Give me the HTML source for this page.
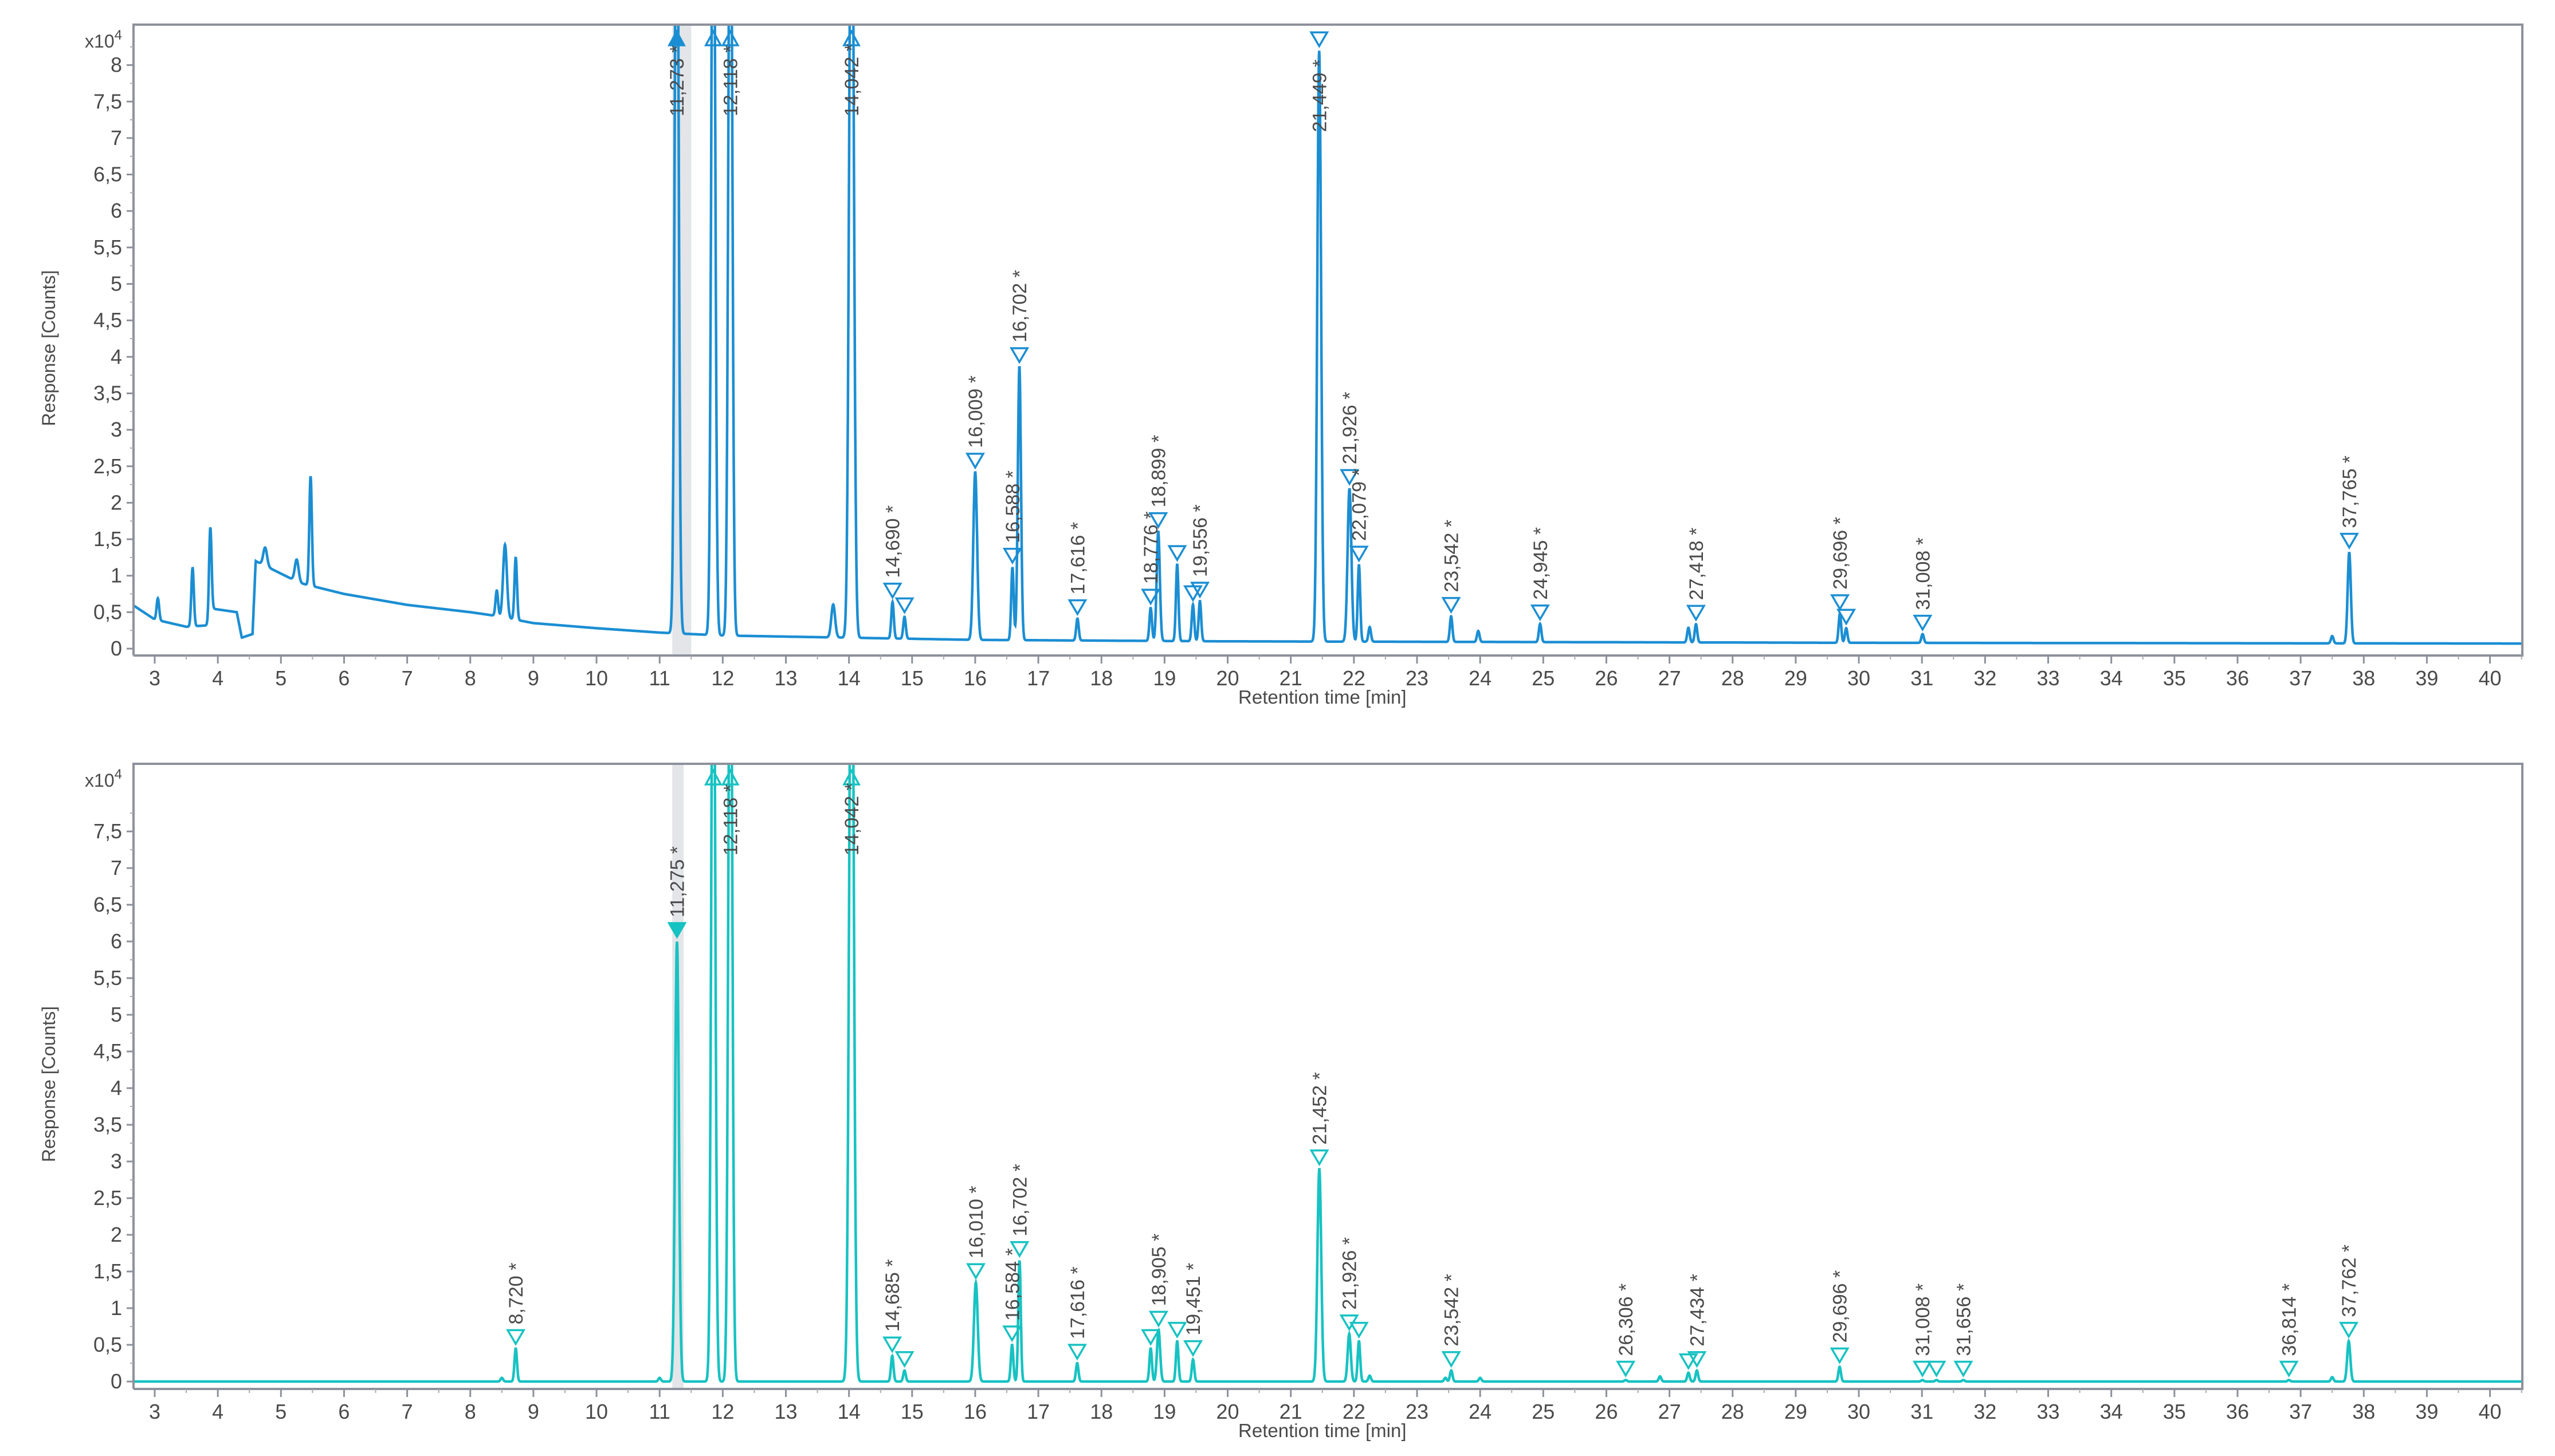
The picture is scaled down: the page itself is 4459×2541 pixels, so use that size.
<!DOCTYPE html>
<html><head><meta charset="utf-8"><style>
html,body{margin:0;padding:0;background:#fff}
svg{display:block}
text{font-family:"Liberation Sans",sans-serif;fill:#4a4a4a}
</style></head><body>
<svg id="chart" width="4459" height="2541" viewBox="0 0 4459 2541" xmlns="http://www.w3.org/2000/svg"></svg>
<script>
// ---- data (retention time in min, response in x10^4 counts) ----
const topBaseT = [2.65,3.0,3.5,3.85,3.9,4.3,4.38,4.55,4.6,5.3,6.0,7.0,8.0,8.4,9.0,10.0,11.0,12.0,14.0,16.0,20.0,30.0,40.5];
const topBaseV = [0.6,0.4,0.3,0.32,0.55,0.5,0.15,0.2,1.2,0.9,0.75,0.6,0.5,0.45,0.35,0.28,0.22,0.18,0.15,0.12,0.1,0.08,0.07];
const topPeakT = [3.05,3.6,3.88,4.75,5.25,5.47,8.42,8.55,8.72,11.27,11.85,12.12,13.75,14.04,14.69,14.88,16.0,16.59,16.7,17.62,18.78,18.9,19.2,19.45,19.56,21.45,21.93,22.08,22.25,23.54,23.97,24.95,27.3,27.42,29.7,29.8,31.01,37.5,37.77];
const topPeakH = [0.3,0.8,1.2,0.25,0.3,1.5,0.35,1.0,0.85,12,12,12,0.45,12,0.5,0.3,2.3,1.0,3.75,0.3,0.45,1.5,1.05,0.5,0.55,8.1,2.1,1.05,0.2,0.35,0.15,0.25,0.2,0.25,0.4,0.2,0.12,0.1,1.25];
const topPeakW = [0.02,0.02,0.02,0.03,0.03,0.02,0.02,0.03,0.02,0.03,0.03,0.03,0.03,0.035,0.02,0.02,0.03,0.02,0.025,0.02,0.02,0.025,0.02,0.02,0.02,0.03,0.03,0.02,0.02,0.02,0.02,0.02,0.02,0.02,0.02,0.02,0.02,0.02,0.025];
const topMarkT = [11.27,11.85,12.12,14.04,14.69,14.88,16.0,16.59,16.7,17.62,18.78,18.9,19.2,19.45,19.56,21.45,21.93,22.08,23.54,24.95,27.42,29.7,29.8,31.01,37.77];
const topMarkL = ["11,273","","12,118","14,042","14,690","","16,009","16,588","16,702","17,616","18,776","18,899","","","19,556","21,449","21,926","22,079","23,542","24,945","27,418","29,696","","31,008","37,765"];

const botPeakT = [8.5,8.72,11.0,11.275,11.85,12.12,14.04,14.685,14.88,16.01,16.584,16.702,17.616,18.78,18.905,19.2,19.451,21.452,21.926,22.08,22.25,23.45,23.542,24.0,26.306,26.85,27.3,27.434,29.696,31.008,31.23,31.656,36.814,37.5,37.762];
const botPeakH = [0.05,0.45,0.05,6.0,12,12,12,0.35,0.15,1.35,0.5,1.65,0.25,0.45,0.7,0.55,0.3,2.9,0.65,0.55,0.08,0.05,0.15,0.05,0.02,0.07,0.12,0.15,0.2,0.02,0.02,0.02,0.02,0.06,0.55];
const botPeakW = [0.02,0.02,0.02,0.03,0.03,0.03,0.035,0.02,0.02,0.03,0.02,0.02,0.02,0.02,0.025,0.02,0.02,0.03,0.025,0.02,0.02,0.02,0.02,0.02,0.02,0.02,0.02,0.02,0.02,0.02,0.02,0.02,0.02,0.02,0.025];
const botMarkT = [8.72,11.275,11.85,12.12,14.04,14.685,14.88,16.01,16.584,16.702,17.616,18.78,18.905,19.2,19.451,21.452,21.926,22.08,23.542,26.306,27.3,27.434,29.696,31.008,31.23,31.656,36.814,37.762];
const botMarkL = ["8,720","11,275","","12,118","14,042","14,685","","16,010","16,584","16,702","17,616","","18,905","","19,451","21,452","21,926","","23,542","26,306","","27,434","29,696","31,008","","31,656","36,814","37,762"];

const xTicks = [3,4,5,6,7,8,9,10,11,12,13,14,15,16,17,18,19,20,21,22,23,24,25,26,27,28,29,30,31,32,33,34,35,36,37,38,39,40];
const topYTicks = [0,0.5,1,1.5,2,2.5,3,3.5,4,4.5,5,5.5,6,6.5,7,7.5,8];
const botYTicks = [0,0.5,1,1.5,2,2.5,3,3.5,4,4.5,5,5.5,6,6.5,7,7.5];

// ---- layout ----
const NS="http://www.w3.org/2000/svg";
const svg=document.getElementById('chart');
function el(tag,attrs,parent){const e=document.createElementNS(NS,tag);for(const k in attrs)e.setAttribute(k,attrs[k]);(parent||svg).appendChild(e);return e;}
const X0=270, XU=110.15;
function xs(t){return X0+(t-3)*XU;}
const panels=[
 {name:'top',left:233,right:4402,top:43,y0:1132,yu:127.3,axisY:1144,color:'#1b8ed3',
  baseT:topBaseT,baseV:topBaseV,pT:topPeakT,pH:topPeakH,pW:topPeakW,mT:topMarkT,mL:topMarkL,yt:topYTicks,band:[11.2,11.5],filled:0},
 {name:'bottom',left:233,right:4402,top:1333,y0:2411,yu:128,axisY:2424,color:'#17c2c2',
  baseT:[2.65,40.5],baseV:[0,0],pT:botPeakT,pH:botPeakH,pW:botPeakW,mT:botMarkT,mL:botMarkL,yt:botYTicks,band:[11.2,11.38],filled:1}
];
function interp(T,V,t){if(t<=T[0])return V[0];for(let i=1;i<T.length;i++){if(t<=T[i]){const f=(t-T[i-1])/(T[i]-T[i-1]);return V[i-1]+f*(V[i]-V[i-1]);}}return V[V.length-1];}

panels.forEach((p,pi)=>{
  const g=el('g',{});
  
  
  const ys=v=>p.y0-v*p.yu;
  const cid='clip'+pi;
  const defs=el('defs',{},g);
  el('rect',{x:p.left,y:p.top,width:p.right-p.left,height:p.axisY-p.top},el('clipPath',{id:cid},defs));
  const band=el('rect',{x:xs(p.band[0]),y:p.top,width:xs(p.band[1])-xs(p.band[0]),height:p.axisY-p.top,fill:'#e3e5e8'},g);
  
  
  let d='';
  for(let t=2.65;t<=40.5;t+=0.004){
    let v=interp(p.baseT,p.baseV,t);
    for(let i=0;i<p.pT.length;i++){const z=(t-p.pT[i])/p.pW[i];if(Math.abs(z)<6)v+=p.pH[i]*Math.exp(-0.5*z*z);}
    d+=(d?'L':'M')+xs(t).toFixed(1)+','+ys(v).toFixed(1);
  }
  const tr=el('path',{d:d,fill:'none',stroke:p.color,'stroke-width':4.5,'clip-path':'url(#'+cid+')'},g);
  
  
  const fr=el('path',{d:`M${p.left},${p.axisY}V${p.top}H${p.right}V${p.axisY}H${p.left}`,fill:'none',stroke:'#8d919b','stroke-width':4},g);
  
  
  xTicks.forEach(t=>{
    el('line',{x1:xs(t),x2:xs(t),y1:p.axisY,y2:p.axisY+14,stroke:'#8d919b','stroke-width':3},g);
    el('line',{x1:xs(t+0.5),x2:xs(t+0.5),y1:p.axisY,y2:p.axisY+7,stroke:'#aaa','stroke-width':2},g);
    const tx=el('text',{x:xs(t),y:p.axisY+52,'text-anchor':'middle','font-size':36},g);
    tx.textContent=t;
    
    
  });
  const xt=el('text',{x:xs(21.5),y:p.axisY+84,'text-anchor':'middle','font-size':33},g);
  xt.textContent='Retention time [min]';
  
  
  p.yt.forEach(v=>{
    el('line',{x1:p.left-12,x2:p.left,y1:ys(v),y2:ys(v),stroke:'#8d919b','stroke-width':3},g);
    el('line',{x1:p.left-6,x2:p.left,y1:ys(v+0.25),y2:ys(v+0.25),stroke:'#aaa','stroke-width':2},g);
    const ty=el('text',{x:p.left-20,y:ys(v)+12,'text-anchor':'end','font-size':36},g);
    ty.textContent=String(v).replace('.',',');
    
    
  });
  const ex=el('text',{x:p.left-20,y:p.top+40,'text-anchor':'end','font-size':32},g);
  ex.innerHTML='x10<tspan dy="-14" font-size="24">4</tspan>';
  
  
  const yc=(p.top+p.y0)/2+20;
  const yt=el('text',{x:0,y:0,'text-anchor':'middle','font-size':32,transform:`translate(96,${yc}) rotate(-90)`},g);
  yt.textContent='Response [Counts]';
  
  
  p.mT.forEach((t,i)=>{
    let v=interp(p.baseT,p.baseV,t);
    for(let k=0;k<p.pT.length;k++){const z=(t-p.pT[k])/p.pW[k];if(Math.abs(z)<6)v+=p.pH[k]*Math.exp(-0.5*z*z);}
    const x=xs(t);
    const mg=el('g',{},g);
    
    
    const clipped=ys(v)<p.top+10;
    if(clipped){
      const ty=p.top+12;
      const fill=(pi===0&&i===0)?p.color:'none';
      el('path',{d:`M${x-13},${ty+24}L${x},${ty}L${x+13},${ty+24}Z`,fill:fill,stroke:p.color,'stroke-width':3.5},mg);
      if(p.mL[i]){
        const lt=el('text',{x:0,y:0,'font-size':34,transform:`translate(${x+12},${p.top+160}) rotate(-90)`,fill:'#555'},mg);
        lt.textContent=p.mL[i]+' *';
        
        
      }
      return;
    }
    const tip=ys(v)-8;
    const fill=(p.filled===1&&i===1)?p.color:'none';
    el('path',{d:`M${x},${tip}L${x-14},${tip-24}L${x+14},${tip-24}Z`,fill:fill,stroke:p.color,'stroke-width':3.5},mg);
    if(p.mL[i]){
      let base=tip-34;
      if(base-160<p.top) base=tip+150;
      const lt=el('text',{x:0,y:0,'font-size':34,transform:`translate(${x+12},${base}) rotate(-90)`},mg);
      lt.textContent=p.mL[i]+' *';
      
      
    }
  });
});
</script>
</body></html>
